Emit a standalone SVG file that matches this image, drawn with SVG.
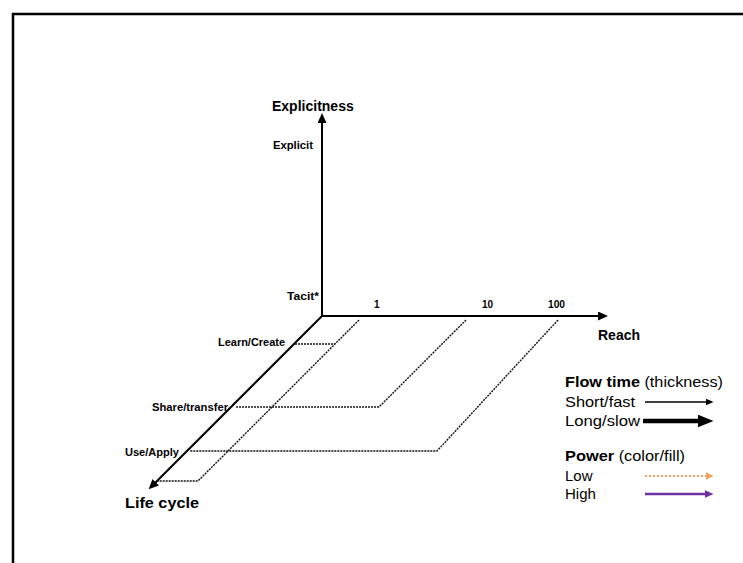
<svg xmlns="http://www.w3.org/2000/svg" width="743" height="563" viewBox="0 0 743 563">
<style>
  text { font-family: "Liberation Sans", Arial, sans-serif; fill: #000; }
  .ax { stroke: #000; stroke-width: 2; fill: none; }
  .dash { stroke: #111; stroke-width: 1.4; stroke-dasharray: 2 1; fill: none; }
  .big { font-size: 14px; font-weight: bold; }
  .small { font-size: 10px; font-weight: bold; }
  .leg { font-size: 15px; }
</style>
<defs>
  <marker id="ah" markerUnits="userSpaceOnUse" markerWidth="10" markerHeight="9" refX="1" refY="4.5" orient="auto">
    <path d="M0,0 L10,4.5 L0,9 z" fill="#000"/>
  </marker>
  <marker id="hs" markerUnits="userSpaceOnUse" markerWidth="8" markerHeight="7" refX="0.5" refY="3.5" orient="auto">
    <path d="M0,0 L8,3.5 L0,7 z" fill="#000"/>
  </marker>
  <marker id="hl" markerUnits="userSpaceOnUse" markerWidth="16" markerHeight="13" refX="0.5" refY="6.5" orient="auto">
    <path d="M0,0 L16,6.5 L0,13 z" fill="#000"/>
  </marker>
  <marker id="ho" markerUnits="userSpaceOnUse" markerWidth="8" markerHeight="8" refX="0.5" refY="4" orient="auto">
    <path d="M0,0 L8,4 L0,8 z" fill="#F0A060"/>
  </marker>
  <marker id="hp" markerUnits="userSpaceOnUse" markerWidth="9" markerHeight="8" refX="0.5" refY="4" orient="auto">
    <path d="M0,0 L9,4 L0,8 z" fill="#7030A0"/>
  </marker>
</defs>
<rect width="743" height="563" fill="#fff"/>
<g id="frame">
  <path d="M13,563 L13,14 L743,14" stroke="#000" stroke-width="2.5" fill="none"/>
</g>
<g id="connectors">
  <line class="ax" x1="322" y1="317" x2="322" y2="122" marker-end="url(#ah)"/>
  <line class="ax" x1="321" y1="316" x2="599" y2="316" marker-end="url(#ah)"/>
  <line class="ax" x1="322" y1="316" x2="155" y2="483" marker-end="url(#ah)"/>
  <polyline class="dash" points="359,320 198,481 157,481"/>
  <line class="dash" x1="295" y1="344" x2="335" y2="344"/>
  <polyline class="dash" points="466,320 379,407 236,407"/>
  <polyline class="dash" points="558,320 437,451 190,451"/>
</g>
<g id="labels">
  <text class="big" x="272" y="111">Explicitness</text>
  <text class="small" x="273" y="149" textLength="40" lengthAdjust="spacingAndGlyphs">Explicit</text>
  <text class="small" x="287" y="300" textLength="32" lengthAdjust="spacingAndGlyphs">Tacit*</text>
  <text class="small" x="374" y="308">1</text>
  <text class="small" x="482" y="308">10</text>
  <text class="small" x="548" y="308" textLength="17" lengthAdjust="spacingAndGlyphs">100</text>
  <text class="big" x="598" y="340">Reach</text>
  <text class="small" x="218" y="346" textLength="67" lengthAdjust="spacingAndGlyphs">Learn/Create</text>
  <text class="small" x="152" y="411" textLength="76" lengthAdjust="spacingAndGlyphs">Share/transfer</text>
  <text class="small" x="125" y="456" textLength="54" lengthAdjust="spacingAndGlyphs">Use/Apply</text>
  <text class="big" x="125" y="508" style="font-size:15px" textLength="74" lengthAdjust="spacingAndGlyphs">Life cycle</text>
</g>
<g id="legend">
  <text class="leg" x="565" y="387" textLength="158" lengthAdjust="spacingAndGlyphs"><tspan font-weight="bold">Flow time</tspan> (thickness)</text>
  <text class="leg" x="565" y="407" textLength="70" lengthAdjust="spacingAndGlyphs">Short/fast</text>
  <line x1="645" y1="402" x2="706" y2="402" stroke="#000" stroke-width="1.5" marker-end="url(#hs)"/>
  <text class="leg" x="565" y="426" textLength="75" lengthAdjust="spacingAndGlyphs">Long/slow</text>
  <line x1="643" y1="421" x2="698" y2="421" stroke="#000" stroke-width="4.5" marker-end="url(#hl)"/>
  <text class="leg" x="565" y="461" textLength="120" lengthAdjust="spacingAndGlyphs"><tspan font-weight="bold">Power</tspan> (color/fill)</text>
  <text class="leg" x="565" y="481">Low</text>
  <line x1="645" y1="476" x2="706" y2="476" stroke="#F0A060" stroke-width="2" stroke-dasharray="2 2" marker-end="url(#ho)"/>
  <text class="leg" x="565" y="499">High</text>
  <line x1="645" y1="494" x2="705" y2="494" stroke="#7030A0" stroke-width="2.5" marker-end="url(#hp)"/>
</g>
</svg>
